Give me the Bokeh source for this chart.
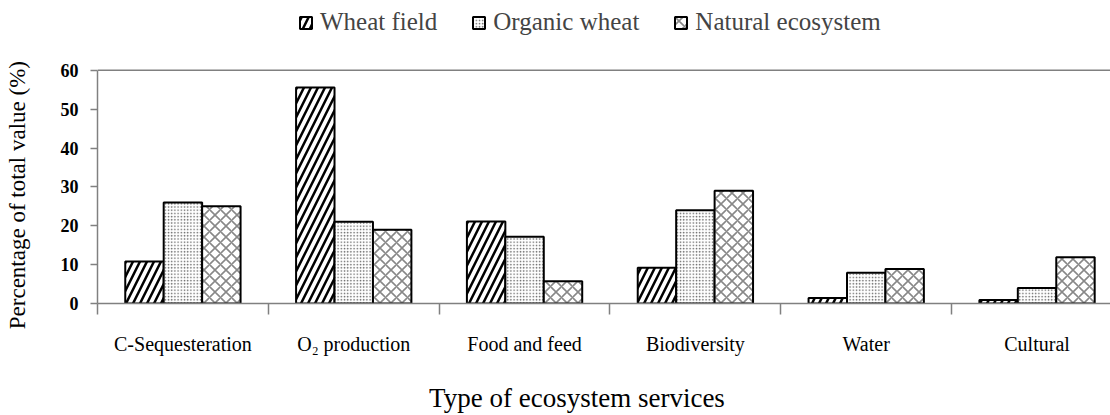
from bokeh.plotting import figure
from bokeh.models import (FixedTicker, LinearAxis, Span, Legend, LegendItem,
                          ColumnDataSource)
from bokeh.embed import file_html
from bokeh.resources import INLINE

categories = ["C-Sequesteration", "O\u2082 production", "Food and feed",
              "Biodiversity", "Water", "Cultural"]
wheat_field = [10.8, 55.6, 21.1, 9.2, 1.4, 0.9]
organic_wheat = [26.0, 21.0, 17.2, 24.0, 7.9, 4.0]
natural_ecosystem = [25.0, 19.0, 5.7, 29.0, 8.9, 11.9]
series_names = ["Wheat field", "Organic wheat", "Natural ecosystem"]
y_ticks = [0, 10, 20, 30, 40, 50, 60]
x_title = "Type of ecosystem services"
y_title = "Percentage of total value (%)"

FONT = "Liberation Serif"
GRAY = "#808080"

p = figure(width=1110, height=415, output_backend="svg", toolbar_location=None,
           x_range=(0, 5.93), y_range=(0, 77.95),
           min_border_left=97, min_border_right=0,
           min_border_top=0, min_border_bottom=111)
p.grid.visible = False
p.outline_line_color = None
p.background_fill_color = "white"

centers = [i + 0.5 for i in range(len(categories))]
bw = 0.225
src = ColumnDataSource(dict(
    xw=[c - bw for c in centers], xo=centers, xn=[c + bw for c in centers],
    w=wheat_field, o=organic_wheat, n=natural_ecosystem))

r1 = p.vbar(x="xw", top="w", width=bw, bottom=0, source=src,
            fill_color="white", line_color="black", line_width=2,
            hatch_pattern="/", hatch_color="black", hatch_scale=14,
            hatch_weight=2.5)
r2 = p.vbar(x="xo", top="o", width=bw, bottom=0, source=src,
            fill_color="white", line_color="black", line_width=2,
            hatch_pattern=".", hatch_color="#666666", hatch_scale=3.2,
            hatch_weight=1)
r3 = p.vbar(x="xn", top="n", width=bw, bottom=0, source=src,
            fill_color="white", line_color="black", line_width=2,
            hatch_pattern="x", hatch_color="#888888", hatch_scale=11,
            hatch_weight=1.6)

p.add_layout(Span(location=60, dimension="width", line_color=GRAY,
                  line_width=1.5))

# y axis
ya = p.yaxis[0]
ya.ticker = FixedTicker(ticks=y_ticks)
ya.bounds = (0, 60)
ya.axis_line_color = GRAY
ya.axis_line_width = 1.5
ya.major_tick_line_color = GRAY
ya.major_tick_line_width = 1.5
ya.major_tick_out = 7
ya.major_tick_in = 0
ya.minor_tick_line_color = None
ya.major_label_text_font = FONT
ya.major_label_text_font_size = "18px"
ya.major_label_text_font_style = "bold"
ya.major_label_text_color = "black"
ya.major_label_standoff = 12
ya.axis_label = y_title + "\u00a0" * 15
ya.axis_label_text_font = FONT
ya.axis_label_text_font_size = "23px"
ya.axis_label_text_font_style = "normal"
ya.axis_label_text_color = "black"
ya.axis_label_standoff = 28

# x axis with boundary ticks
xa = p.xaxis[0]
xa.ticker = FixedTicker(ticks=list(range(len(categories) + 1)))
xa.axis_line_color = GRAY
xa.axis_line_width = 1.5
xa.major_tick_line_color = GRAY
xa.major_tick_line_width = 1.5
xa.major_tick_out = 11
xa.major_tick_in = 0
xa.minor_tick_line_color = None
xa.major_label_text_font_size = "8px"
xa.major_label_text_color = "white"
xa.major_label_text_alpha = 0
xa.major_label_standoff = 0

# x axis with category labels and the axis title
xc = LinearAxis(ticker=FixedTicker(ticks=centers),
                major_label_overrides={c: n for c, n in zip(centers, categories)})
xc.axis_line_color = None
xc.major_tick_line_color = None
xc.minor_tick_line_color = None
xc.major_label_text_font = FONT
xc.major_label_text_font_size = "20px"
xc.major_label_text_color = "black"
xc.major_label_standoff = 12
xc.axis_label = x_title + "\u00a0" * 8
xc.axis_label_text_font = FONT
xc.axis_label_text_font_size = "27px"
xc.axis_label_text_font_style = "normal"
xc.axis_label_text_color = "black"
xc.axis_label_standoff = 25
p.add_layout(xc, "below")

legend = Legend(items=[LegendItem(label=series_names[0], renderers=[r1]),
                       LegendItem(label=series_names[1], renderers=[r2]),
                       LegendItem(label=series_names[2], renderers=[r3])],
                orientation="horizontal", location=(201, 267),
                label_text_font=FONT, label_text_font_size="25px",
                glyph_width=15, glyph_height=15, spacing=34,
                label_standoff=7, border_line_color=None,
                background_fill_alpha=0, padding=0, margin=0)
p.add_layout(legend, "center")

open("out.html", "w").write(file_html(p, INLINE))
